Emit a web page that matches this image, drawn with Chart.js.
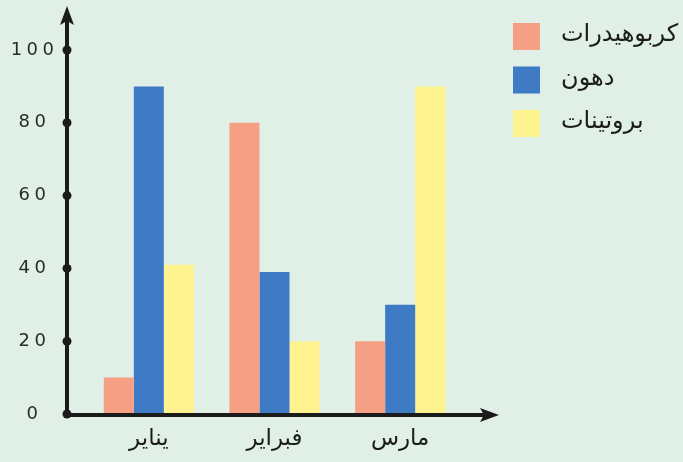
<!DOCTYPE html>
<html>
<head>
<meta charset="utf-8">
<script src="https://cdn.jsdelivr.net/npm/chart.js@4.4.0/dist/chart.umd.min.js"></script>
<style>
  html, body { margin: 0; padding: 0; background: #e1f0e6; }
  #wrap { width: 683px; height: 462px; }
</style>
</head>
<body>
<div id="wrap"><canvas id="chart"></canvas></div>
<script>
const months = ["يناير", "فبراير", "مارس"];
const seriesNames = ["كربوهيدرات", "دهون", "بروتينات"];
const carbs = [10, 80, 20];
const fats = [90, 39, 30];
const proteins = [41, 20, 90];
const yTicks = [0, 20, 40, 60, 80, 100];

const colors = ["#f5a085", "#3f7bc4", "#fef38e"];
const ink = "#1b1b1b";

// axes with arrows and dots, drawn beside the plot area
const arrowAxes = {
  id: "arrowAxes",
  afterDraw(chart) {
    const ctx = chart.ctx;
    const y = chart.scales.y;
    const area = chart.chartArea;
    const ax = area.left - 19;
    const ay = y.getPixelForValue(0) + 1;
    ctx.save();
    ctx.strokeStyle = ink;
    ctx.fillStyle = ink;
    ctx.lineWidth = 4;
    // y axis
    ctx.beginPath();
    ctx.moveTo(ax, ay);
    ctx.lineTo(ax, 20);
    ctx.stroke();
    ctx.beginPath();
    ctx.moveTo(ax, 6);
    ctx.lineTo(ax - 7, 25);
    ctx.lineTo(ax, 21);
    ctx.lineTo(ax + 7, 25);
    ctx.closePath();
    ctx.fill();
    // x axis
    ctx.beginPath();
    ctx.moveTo(ax, ay);
    ctx.lineTo(485, ay);
    ctx.stroke();
    ctx.beginPath();
    ctx.moveTo(499, ay);
    ctx.lineTo(480, ay - 7);
    ctx.lineTo(484, ay);
    ctx.lineTo(480, ay + 7);
    ctx.closePath();
    ctx.fill();
    // tick dots
    y.ticks.forEach(t => {
      ctx.beginPath();
      ctx.arc(ax, y.getPixelForValue(t.value), 4.5, 0, Math.PI * 2);
      ctx.fill();
    });
    ctx.restore();
  }
};

// legend at the upper right, box left of the name
const sideLegend = {
  id: "sideLegend",
  afterDraw(chart) {
    const ctx = chart.ctx;
    ctx.save();
    ctx.font = "24px 'DejaVu Sans'";
    ctx.textBaseline = "middle";
    ctx.textAlign = "left";
    chart.data.datasets.forEach((ds, i) => {
      const top = 23 + i * 43.5;
      ctx.fillStyle = ds.backgroundColor;
      ctx.fillRect(513, top, 27, 27);
      ctx.fillStyle = ink;
      ctx.fillText(ds.label, 561, top + 12);
    });
    ctx.restore();
  }
};

new Chart(document.getElementById("chart"), {
  type: "bar",
  data: {
    labels: months,
    datasets: [
      { label: seriesNames[0], data: carbs, backgroundColor: colors[0] },
      { label: seriesNames[1], data: fats, backgroundColor: colors[1] },
      { label: seriesNames[2], data: proteins, backgroundColor: colors[2] }
    ]
  },
  options: {
    responsive: true,
    maintainAspectRatio: false,
    animation: false,
    datasets: {
      bar: { categoryPercentage: 0.717, barPercentage: 1.0, borderWidth: 0 }
    },
    layout: { padding: { top: 50, right: 220, left: 0, bottom: 0 } },
    plugins: {
      legend: { display: false },
      tooltip: { enabled: false }
    },
    scales: {
      x: {
        grid: { display: false, drawTicks: false },
        border: { display: false },
        ticks: {
          color: ink,
          padding: 11,
          font: { family: "'DejaVu Sans'", size: 23 }
        },
        afterFit(scale) { scale.height = 48; }
      },
      y: {
        min: 0,
        max: 100,
        grid: { display: false, drawTicks: false },
        border: { display: false },
        afterBuildTicks(scale) { scale.ticks = yTicks.map(v => ({ value: v })); },
        ticks: {
          color: "#2a2a2a",
          padding: 32,
          crossAlign: "center",
          font: { family: "'DejaVu Sans'", size: 18 },
          callback: v => String(v).split("").join("\u2005")
        },
        afterFit(scale) { scale.width = 86; }
      }
    }
  },
  plugins: [arrowAxes, sideLegend]
});
</script>
</body>
</html>
